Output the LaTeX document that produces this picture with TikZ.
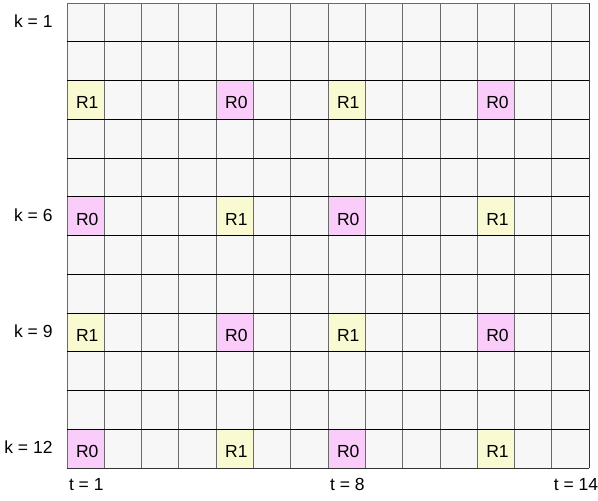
\documentclass[tikz,border=0pt]{standalone}
\usepackage{fontspec}
\setmainfont{Liberation Sans}
\usetikzlibrary{positioning}
\definecolor{cellgray}{HTML}{F7F7F7}
\definecolor{tagR1}{HTML}{FAFAD2}
\definecolor{tagR0}{HTML}{FACCFA}
\definecolor{vgray}{HTML}{6A6A6A}

\begin{document}
\begin{tikzpicture}[
  x=1pt, y=-1pt,
  line width=1pt,
  cell/.style={fill=cellgray, minimum width=37.3pt, minimum height=38.75pt, inner sep=0pt, outer sep=0pt},
  tag/.style={anchor=base west, inner sep=0pt, font=\fontsize{17.5}{20}\selectfont},
  side/.style={inner sep=0pt, font=\fontsize{17.5}{20}\selectfont},
  vrule/.style={draw=vgray},
  hrule/.style={draw=black}
]
  \useasboundingbox (0,0) rectangle (598,501);
  \fill[white] (0,0) rectangle (598,501);
  % grid of cells
  \foreach \r in {1,...,12}
    \foreach \c in {1,...,14}
      \node[cell] (c-\r-\c) at ({67+37.3*(\c-0.5)}, {3+38.75*(\r-0.5)}) {};
  % coloured cells
  \foreach \r/\ta/\tb in {3/R1/R0, 6/R0/R1, 9/R1/R0, 12/R0/R1}
    \foreach \c/\tg in {1/\ta, 5/\tb, 8/\ta, 12/\tb} {
      \fill[tag\tg] (c-\r-\c.south west) rectangle (c-\r-\c.north east);
      \node[tag] (l-\r-\c) at ([xshift=8.5pt, yshift=-9pt]c-\r-\c.west) {\tg};
    }
  % lines
  \foreach \c in {1,...,14}
    \draw[vrule] (c-1-\c.north west) -- (c-12-\c.south west);
  \draw[vrule, draw=black!80] (c-1-14.north east) -- (c-12-14.south east);
  \draw[vrule] (c-1-1.north west) -- (c-1-14.north east);
  \foreach \r in {2,...,12}
    \draw[hrule] (c-\r-1.north west) -- (c-\r-14.north east);
  \draw[hrule, draw=black!80] (c-12-1.south west) -- (c-12-14.south east);
  % axis labels
  \foreach \r in {1,6,9,12}
    \node[side, anchor=base east] (k-\r) at ([xshift=-14pt, yshift=-5pt]c-\r-1.west) {k = \r};
  \foreach \c in {1,8,14}
    \node[side, anchor=base west] (t-\c) at ([xshift=1.5pt, yshift=-22pt]c-12-\c.south west) {t = \c};
\end{tikzpicture}
\end{document}
